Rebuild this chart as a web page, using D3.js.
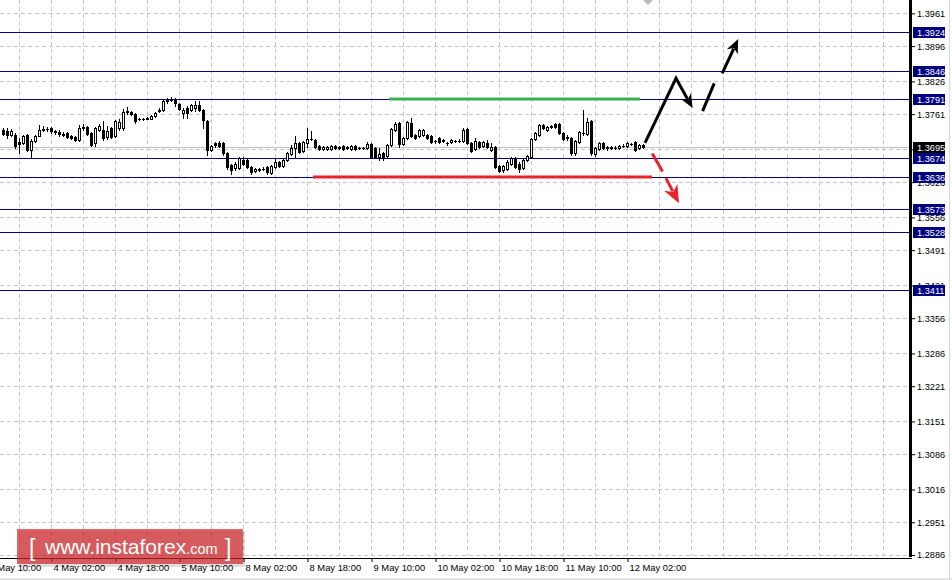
<!DOCTYPE html>
<html><head><meta charset="utf-8">
<script src="https://cdn.jsdelivr.net/npm/d3@7"></script>
<style>
html,body{margin:0;padding:0;background:#fff;}
svg{display:block;}
text{font-family:Tahoma,"Liberation Sans",Arial,sans-serif;}
</style></head>
<body>
<script>
// ---- data ----
const timeTickIdx = [-4,12,28,44,60,76,92,108,124,140,156];
const timeTickLabels = ["3 May 10:00","4 May 02:00","4 May 18:00","5 May 10:00","8 May 02:00","8 May 18:00","9 May 10:00","10 May 02:00","10 May 18:00","11 May 10:00","12 May 02:00"];
const priceTicks = [1.3961,1.3896,1.3826,1.3761,1.3691,1.3626,1.3556,1.3491,1.3421,1.3356,1.3286,1.3221,1.3151,1.3086,1.3016,1.2951,1.2886];
const hiddenTickLabels = [1.3691]; // covered by the current-price box in the reference
const levels = [1.3924,1.3846,1.3791,1.3674,1.3636,1.3573,1.3528,1.3411];
const currentPrice = 1.3695;
// [open, high, low, close], hourly bars
const ohlc = [
[1.3730,1.3733,1.3719,1.3721],[1.3727,1.3733,1.3714,1.3720],[1.3719,1.3731,1.3717,1.3727],[1.3720,1.3723,1.3694,1.3698],
[1.3706,1.3713,1.3683,1.3702],[1.3703,1.3720,1.3701,1.3717],[1.3719,1.3721,1.3688,1.3690],[1.3690,1.3711,1.3676,1.3708],
[1.3708,1.3720,1.3706,1.3717],[1.3718,1.3740,1.3717,1.3730],[1.3729,1.3737,1.3727,1.3732],[1.3732,1.3736,1.3727,1.3731],
[1.3733,1.3736,1.3724,1.3727],[1.3727,1.3729,1.3722,1.3725],[1.3726,1.3729,1.3718,1.3721],[1.3722,1.3725,1.3717,1.3720],
[1.3723,1.3725,1.3713,1.3715],[1.3718,1.3720,1.3711,1.3713],[1.3715,1.3717,1.3707,1.3710],[1.3710,1.3740,1.3708,1.3733],
[1.3733,1.3741,1.3730,1.3736],[1.3735,1.3737,1.3719,1.3721],[1.3723,1.3726,1.3698,1.3700],[1.3703,1.3735,1.3697,1.3733],
[1.3730,1.3741,1.3727,1.3737],[1.3730,1.3747,1.3710,1.3713],[1.3715,1.3737,1.3712,1.3728],[1.3733,1.3735,1.3713,1.3715],
[1.3717,1.3750,1.3715,1.3748],[1.3733,1.3752,1.3730,1.3745],[1.3733,1.3772,1.3730,1.3766],[1.3765,1.3775,1.3762,1.3767],
[1.3766,1.3768,1.3760,1.3762],[1.3761,1.3763,1.3744,1.3747],[1.3752,1.3754,1.3749,1.3751],[1.3751,1.3754,1.3749,1.3752],
[1.3752,1.3756,1.3751,1.3753],[1.3752,1.3760,1.3751,1.3758],[1.3757,1.3766,1.3755,1.3764],[1.3767,1.3774,1.3765,1.3770],
[1.3770,1.3790,1.3768,1.3787],[1.3788,1.3794,1.3784,1.3790],[1.3790,1.3795,1.3787,1.3790],[1.3790,1.3794,1.3777,1.3784],
[1.3782,1.3784,1.3770,1.3772],[1.3764,1.3774,1.3753,1.3770],[1.3774,1.3777,1.3753,1.3764],[1.3770,1.3782,1.3768,1.3779],
[1.3774,1.3787,1.3767,1.3780],[1.3779,1.3787,1.3768,1.3770],[1.3770,1.3772,1.3733,1.3750],[1.3748,1.3750,1.3680,1.3690],
[1.3690,1.3700,1.3688,1.3698],[1.3703,1.3706,1.3696,1.3700],[1.3704,1.3708,1.3696,1.3698],[1.3703,1.3706,1.3680,1.3683],
[1.3683,1.3685,1.3653,1.3656],[1.3661,1.3663,1.3643,1.3651],[1.3654,1.3665,1.3650,1.3663],[1.3654,1.3675,1.3652,1.3673],
[1.3670,1.3675,1.3660,1.3663],[1.3670,1.3672,1.3654,1.3656],[1.3656,1.3658,1.3643,1.3646],[1.3649,1.3654,1.3646,1.3652],
[1.3652,1.3654,1.3648,1.3651],[1.3652,1.3656,1.3650,1.3653],[1.3656,1.3658,1.3643,1.3646],[1.3645,1.3660,1.3643,1.3658],
[1.3656,1.3673,1.3654,1.3666],[1.3666,1.3668,1.3656,1.3658],[1.3659,1.3672,1.3657,1.3670],[1.3670,1.3685,1.3668,1.3683],
[1.3681,1.3700,1.3679,1.3694],[1.3693,1.3718,1.3676,1.3703],[1.3703,1.3706,1.3684,1.3686],[1.3687,1.3708,1.3685,1.3705],
[1.3703,1.3733,1.3696,1.3712],[1.3712,1.3727,1.3710,1.3712],[1.3710,1.3712,1.3694,1.3696],[1.3698,1.3700,1.3689,1.3691],
[1.3691,1.3698,1.3689,1.3696],[1.3692,1.3698,1.3690,1.3696],[1.3692,1.3699,1.3690,1.3697],[1.3697,1.3699,1.3691,1.3693],
[1.3694,1.3697,1.3692,1.3695],[1.3697,1.3699,1.3690,1.3692],[1.3694,1.3697,1.3692,1.3695],[1.3692,1.3699,1.3690,1.3697],
[1.3697,1.3699,1.3690,1.3692],[1.3694,1.3696,1.3692,1.3693],[1.3693,1.3696,1.3692,1.3694],[1.3694,1.3706,1.3692,1.3701],
[1.3701,1.3703,1.3674,1.3676],[1.3693,1.3696,1.3673,1.3676],[1.3675,1.3693,1.3670,1.3681],[1.3683,1.3685,1.3670,1.3673],
[1.3678,1.3702,1.3676,1.3700],[1.3700,1.3734,1.3698,1.3732],[1.3730,1.3745,1.3728,1.3741],[1.3743,1.3745,1.3696,1.3701],
[1.3701,1.3716,1.3699,1.3714],[1.3714,1.3747,1.3712,1.3745],[1.3743,1.3753,1.3715,1.3717],[1.3720,1.3722,1.3712,1.3714],
[1.3718,1.3732,1.3716,1.3730],[1.3720,1.3732,1.3718,1.3730],[1.3720,1.3722,1.3711,1.3713],[1.3717,1.3719,1.3703,1.3705],
[1.3707,1.3710,1.3704,1.3708],[1.3714,1.3716,1.3703,1.3706],[1.3710,1.3712,1.3705,1.3707],[1.3703,1.3705,1.3700,1.3703],
[1.3705,1.3711,1.3703,1.3709],[1.3708,1.3710,1.3705,1.3707],[1.3707,1.3711,1.3705,1.3708],[1.3708,1.3733,1.3706,1.3730],
[1.3732,1.3734,1.3701,1.3703],[1.3703,1.3705,1.3686,1.3688],[1.3692,1.3713,1.3690,1.3708],[1.3706,1.3708,1.3694,1.3696],
[1.3698,1.3708,1.3696,1.3706],[1.3703,1.3710,1.3694,1.3696],[1.3690,1.3703,1.3688,1.3696],[1.3696,1.3698,1.3654,1.3656],
[1.3659,1.3661,1.3646,1.3649],[1.3651,1.3661,1.3647,1.3659],[1.3653,1.3670,1.3651,1.3666],[1.3663,1.3675,1.3661,1.3673],
[1.3673,1.3675,1.3654,1.3656],[1.3663,1.3665,1.3647,1.3653],[1.3654,1.3672,1.3652,1.3670],[1.3670,1.3680,1.3668,1.3678],
[1.3676,1.3714,1.3674,1.3712],[1.3712,1.3725,1.3710,1.3723],[1.3720,1.3742,1.3717,1.3740],[1.3740,1.3742,1.3731,1.3733],
[1.3730,1.3737,1.3728,1.3735],[1.3735,1.3740,1.3733,1.3738],[1.3741,1.3743,1.3733,1.3735],[1.3741,1.3743,1.3721,1.3723],
[1.3723,1.3725,1.3710,1.3712],[1.3714,1.3719,1.3710,1.3715],[1.3714,1.3716,1.3680,1.3683],[1.3683,1.3710,1.3680,1.3708],
[1.3706,1.3727,1.3704,1.3725],[1.3723,1.3770,1.3720,1.3724],[1.3721,1.3753,1.3719,1.3745],[1.3747,1.3749,1.3680,1.3683],
[1.3681,1.3695,1.3678,1.3693],[1.3692,1.3705,1.3690,1.3703],[1.3703,1.3706,1.3692,1.3694],[1.3696,1.3698,1.3690,1.3693],
[1.3694,1.3697,1.3691,1.3695],[1.3694,1.3697,1.3691,1.3694],[1.3694,1.3699,1.3692,1.3697],[1.3698,1.3701,1.3696,1.3698],
[1.3698,1.3705,1.3696,1.3703],[1.3701,1.3704,1.3699,1.3702],[1.3706,1.3708,1.3688,1.3690],[1.3693,1.3702,1.3691,1.3700],
[1.3699,1.3701,1.3694,1.3696]
];
// annotations: [barIndex, price]
const resistanceLine = [[96.5,1.3791],[159.25,1.3791]];
const supportLine = [[77.5,1.3636],[162.25,1.3636]];
const upPath = [[160.5,1.3704],[168.25,1.3832],[172.4,1.3773]];
const upDash = [[174.9,1.3767],[177.8,1.3822]];
const upArrow = [[179.8,1.3842],[183.8,1.3910]];
const downDash = [[162.3,1.3683],[164.9,1.3647]];
const downArrow = [[165.75,1.3634],[169,1.3584]];

// ---- chart ----
const W = 952, H = 580, plotR = 909, axisY = 558;
const FONT = 'Tahoma,"Liberation Sans",Arial,sans-serif';
const svg = d3.select("body").append("svg").attr("width", W).attr("height", H);
svg.append("rect").attr("width", W).attr("height", H).attr("fill", "#fff");

const x = d3.scaleLinear().domain([0, 160]).range([3, 643]);
const y = d3.scaleLinear().domain([1.2886, 1.3924]).range([555, 32]);
const py = v => Math.round(y(v)) + 0.5;

const plot = svg.append("g");
// grid
const vIdx = d3.range(-4, 221, 8);
plot.selectAll(".vg").data(vIdx).join("line")
  .attr("x1", d => x(d) + 0.5).attr("x2", d => x(d) + 0.5)
  .attr("y1", 0).attr("y2", 556)
  .attr("stroke", "#c6c6c6").attr("stroke-dasharray", "4,3");
plot.selectAll(".hg").data(priceTicks).join("line")
  .attr("x1", 0).attr("x2", plotR).attr("y1", d => py(d)).attr("y2", d => py(d))
  .attr("stroke", "#c6c6c6").attr("stroke-dasharray", "4,3");

// current price line
plot.append("line").attr("x1", 0).attr("x2", plotR)
  .attr("y1", py(currentPrice)).attr("y2", py(currentPrice))
  .attr("stroke", "#c0c0c0");

// level lines
plot.selectAll(".lv").data(levels).join("line")
  .attr("x1", 0).attr("x2", plotR).attr("y1", d => py(d)).attr("y2", d => py(d))
  .attr("stroke", "#000080");

// candles
const cg = plot.append("g").attr("shape-rendering", "crispEdges");
ohlc.forEach((d, i) => {
  const [o, h, l, c] = d;
  const cx = Math.round(x(i));
  cg.append("line").attr("x1", cx + 0.5).attr("x2", cx + 0.5)
    .attr("y1", Math.round(y(h))).attr("y2", Math.round(y(l)) + 1).attr("stroke", "#000");
  const top = Math.round(y(Math.max(o, c))), bot = Math.round(y(Math.min(o, c)));
  if (c >= o && bot - top >= 2) {
    cg.append("rect").attr("x", cx - 0.5).attr("y", top + 0.5).attr("width", 2)
      .attr("height", bot - top).attr("fill", "#fff").attr("stroke", "#000");
  } else {
    cg.append("rect").attr("x", cx - 1).attr("y", top).attr("width", 3)
      .attr("height", Math.max(1, bot - top + 1)).attr("fill", "#000");
  }
});

// support / resistance
const line = d3.line().x(d => x(d[0])).y(d => y(d[1]));
plot.append("path").attr("d", line(resistanceLine)).attr("stroke", "#34b24a").attr("stroke-width", 3).attr("fill", "none").attr("opacity", 0.95);
plot.append("path").attr("d", line(supportLine)).attr("stroke", "#e8232b").attr("stroke-width", 3).attr("fill", "none");

// arrows
function head(pts, color, len, hw) {
  const a = pts[pts.length - 2], b = pts[pts.length - 1];
  const ax = x(a[0]), ay = y(a[1]), bx = x(b[0]), by = y(b[1]);
  const dx = bx - ax, dy = by - ay, L = Math.hypot(dx, dy), ux = dx / L, uy = dy / L;
  const baseX = bx - ux * len, baseY = by - uy * len;
  plot.append("path").attr("d", `M${bx},${by}L${baseX - uy * hw},${baseY + ux * hw}L${bx - ux * len * 0.7},${by - uy * len * 0.7}L${baseX + uy * hw},${baseY - ux * hw}Z`)
    .attr("fill", color);
  return [x.invert(bx - ux * len * 0.75), y.invert(by - uy * len * 0.75)];
}
function arrow(pts, color, len, hw) {
  const end = head(pts, color, len, hw);
  const body = pts.slice(0, -1).concat([end]);
  plot.append("path").attr("d", line(body)).attr("stroke", color).attr("stroke-width", 3)
    .attr("fill", "none").attr("stroke-linejoin", "miter");
}
arrow(upPath, "#000", 14, 6);
plot.append("path").attr("d", line(upDash)).attr("stroke", "#000").attr("stroke-width", 3).attr("fill", "none");
arrow(upArrow, "#000", 14, 6);
plot.append("path").attr("d", line(downDash)).attr("stroke", "#e8232b").attr("stroke-width", 3).attr("fill", "none");
arrow(downArrow, "#e8232b", 18, 7.5);

// chart shift marker
const sx = x(161.25);
svg.append("path").attr("d", `M${sx - 5},0L${sx + 5},0L${sx},5Z`).attr("fill", "#b8b8b8");

// axes frame
svg.append("rect").attr("x", 909).attr("y", 0).attr("width", 3).attr("height", 557).attr("fill", "#000");
svg.append("line").attr("x1", 0).attr("x2", 912).attr("y1", axisY + 0.5).attr("y2", axisY + 0.5).attr("stroke", "#000");

// y axis
const fmt = d3.format(".4f");
const yAxis = d3.axisRight(y).tickValues(priceTicks)
  .tickFormat(d => hiddenTickLabels.includes(d) ? "" : fmt(d)).tickSize(3).tickPadding(2);
const yg = svg.append("g").attr("transform", "translate(912,0)").call(yAxis);
yg.select(".domain").remove();
yg.selectAll("line").attr("stroke", "#000");
yg.selectAll("text").attr("font-size", 9.2).attr("fill", "#000").attr("font-family", FONT);

// x axis
const xAxis = d3.axisBottom(x).tickValues(timeTickIdx).tickFormat((d, i) => timeTickLabels[i]).tickSize(4);
const xg = svg.append("g").attr("transform", `translate(0,${axisY})`).call(xAxis);
xg.select(".domain").remove();
xg.selectAll("line").attr("stroke", "#000").attr("transform", "translate(0.5,0)");
xg.selectAll("text").attr("text-anchor", "start").attr("x", 2).attr("y", 6)
  .attr("font-size", 9.4).attr("fill", "#000").attr("font-family", FONT);

// level boxes
const lab = svg.append("g");
function box(v, fill) {
  const cy = Math.round(y(v));
  lab.append("rect").attr("x", 913).attr("y", cy - 5).attr("width", 32).attr("height", 11).attr("fill", fill);
  lab.append("text").attr("x", 917).attr("y", cy + 3.5).attr("font-size", 9.2).attr("fill", "#fff").text(fmt(v));
}
levels.forEach(v => box(v, "#000080"));
box(currentPrice, "#000");

// watermark
const wm = svg.append("g");
const WF = '"Liberation Sans",Arial,sans-serif';
wm.append("rect").attr("x", 19).attr("y", 531).attr("width", 226).attr("height", 36).attr("fill", "#000").attr("opacity", 0.13);
wm.append("rect").attr("x", 17).attr("y", 529).attr("width", 226).attr("height", 35).attr("fill", "rgb(210,35,40)").attr("opacity", 0.7);
wm.append("text").attr("x", 29).attr("y", 556).attr("font-size", 23).attr("fill", "#fff").attr("font-family", WF).text("[");
wm.append("text").attr("x", 45).attr("y", 554).attr("font-size", 21).attr("fill", "#fff").attr("font-family", WF)
  .text("www.instaforex").append("tspan").attr("font-size", 14.5).text(".com");
wm.append("text").attr("x", 225).attr("y", 556).attr("font-size", 23).attr("fill", "#fff").attr("font-family", WF).text("]");

// window border
svg.append("line").attr("x1", 949.5).attr("x2", 949.5).attr("y1", 0).attr("y2", 578).attr("stroke", "#d8d8d8");
svg.append("rect").attr("x", 0).attr("y", 578).attr("width", W).attr("height", 2).attr("fill", "#e4e4e4");
</script>
</body></html>
